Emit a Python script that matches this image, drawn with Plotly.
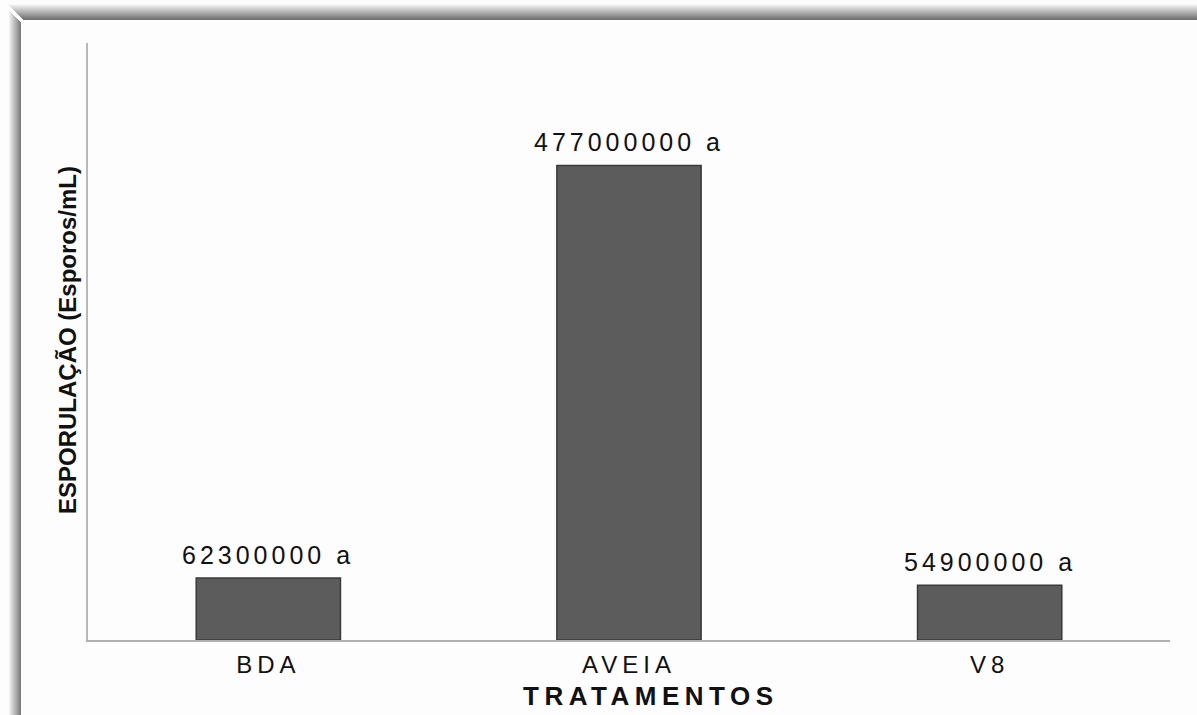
import plotly.graph_objects as go

# ---- data ----
categories = ["BDA", "AVEIA", "V8"]
values = [62300000, 477000000, 54900000]
letters = ["a", "a", "a"]
y_title = "ESPORULAÇÃO (Esporos/mL)"
x_title = "TRATAMENTOS"

W, H = 1197, 715
ML, MR, MT, MB = 88, 27, 43, 75
PW, PH = W - ML - MR, H - MT - MB


def px_x(p):
    return (p - ML) / PW


def px_y(p):
    return (H - MB - p) / PH


def spaced(s, sp):
    return f'<span style="letter-spacing:{sp}px">{s}</span>'


fig = go.Figure()
fig.add_trace(go.Bar(
    x=categories, y=values,
    marker=dict(color="#5c5c5c", line=dict(color="#3a3a3a", width=1.5)),
    hoverinfo="skip",
))

annotations = []
for c, v, l in zip(categories, values, letters):
    annotations.append(dict(
        x=c, y=v, xref="x", yref="y", text=spaced(f"{v:.0f} {l}", 4),
        showarrow=False, yanchor="bottom", xanchor="center", yshift=7,
        font=dict(family="Liberation Sans, Arial", size=25, color="#111111"),
    ))
annotations.append(dict(
    x=px_x(67), y=px_y(340), xref="paper", yref="paper", text=f"<b>{y_title}</b>",
    textangle=-90, showarrow=False, xanchor="center", yanchor="middle",
    font=dict(family="Liberation Sans, Arial", size=24, color="#111111"),
))
annotations.append(dict(
    x=px_x(651), y=px_y(696), xref="paper", yref="paper",
    text="<b>" + spaced(x_title, 5.5) + "</b>",
    showarrow=False, xanchor="center", yanchor="middle",
    font=dict(family="Liberation Sans, Arial", size=26, color="#111111"),
))

# frame shadow (top and left edges)
shapes = []
for p in range(4, 20):
    t = (p - 4) / 15
    g = int(246 - t * (246 - 112))
    col = f"rgb({g},{g},{g})"
    shapes.append(dict(type="rect", xref="paper", yref="paper", layer="below",
                       x0=px_x(p + 4), x1=px_x(W + 5), y0=px_y(p), y1=px_y(p + 1),
                       line=dict(width=0), fillcolor=col))
for p in range(9, 21):
    t = (p - 9) / 11
    g = int(240 - t * (240 - 125))
    col = f"rgb({g},{g},{g})"
    shapes.append(dict(type="rect", xref="paper", yref="paper", layer="below",
                       x0=px_x(p), x1=px_x(p + 1), y0=px_y(p + 2), y1=px_y(H + 5),
                       line=dict(width=0), fillcolor=col))

fig.update_layout(
    width=W, height=H,
    margin=dict(l=ML, r=MR, t=MT, b=MB),
    paper_bgcolor="#fdfdfd", plot_bgcolor="#fdfdfd",
    bargap=0.6, showlegend=False,
    annotations=annotations, shapes=shapes,
    xaxis=dict(
        tickvals=categories, ticktext=[spaced(c, 5) for c in categories],
        showline=True, linecolor="#b0b0b0", linewidth=2,
        showgrid=False, zeroline=False, ticks="", ticklabelstandoff=2,
        tickfont=dict(family="Liberation Sans, Arial", size=24, color="#111111"),
    ),
    yaxis=dict(
        range=[0, 600000000], showticklabels=False, ticks="",
        showline=True, linecolor="#b8b8b8", linewidth=2,
        showgrid=False, zeroline=False,
    ),
)

fig.write_html("out.html")
